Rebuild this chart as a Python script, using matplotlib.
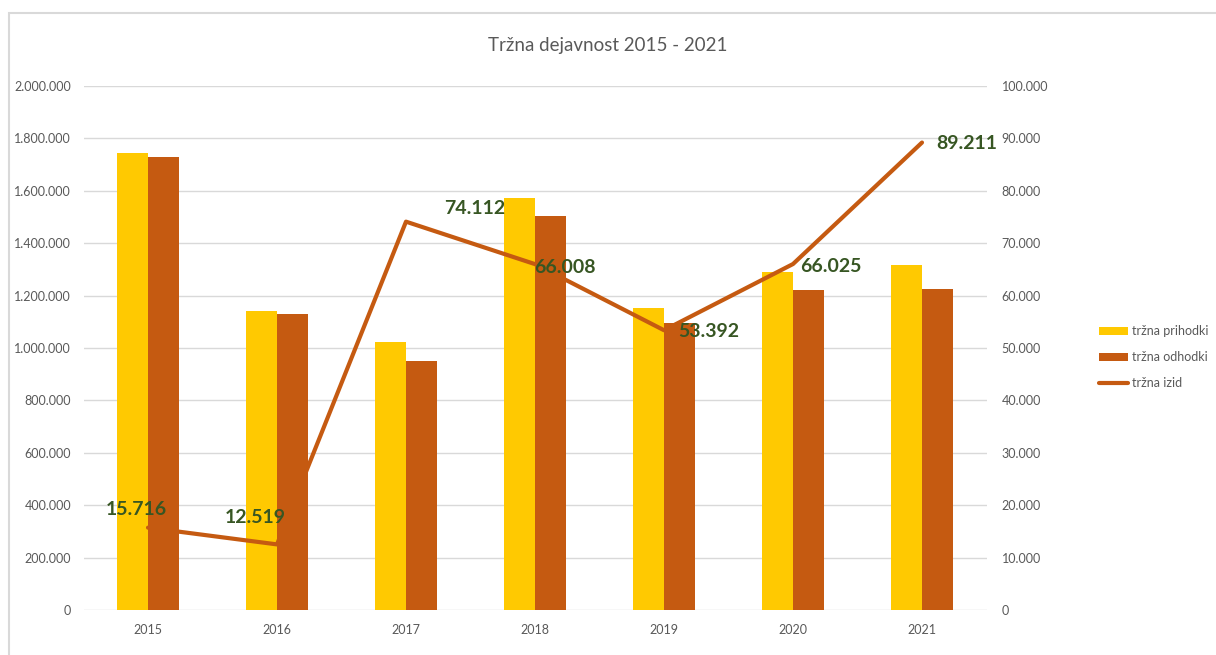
import matplotlib
matplotlib.use("Agg")
import matplotlib.pyplot as plt
from matplotlib.ticker import FuncFormatter
from matplotlib.patches import Rectangle
from matplotlib.lines import Line2D
from matplotlib.patches import Patch

years = ["2015", "2016", "2017", "2018", "2019", "2020", "2021"]
prihodki = [1744000, 1141000, 1023000, 1573000, 1153000, 1290000, 1317000]
odhodki = [1729000, 1130000, 950000, 1504000, 1095000, 1221000, 1225000]
izid = [15716, 12519, 74112, 66008, 53392, 66025, 89211]
label_offsets = [(-12, 18), (-22, 27), (69, 13), (30, -3), (45, -1), (38, -2), (45, -1)]

YELLOW = "#FFC901"
ORANGE = "#C55A11"
GREEN = "#375623"
GRAY = "#595959"
GRID = "#D9D9D9"

plt.rcParams['font.family'] = ['Lato', 'DejaVu Sans']

def fmt(v, pos=None):
    s = f"{int(round(v)):,}".replace(",", ".")
    return s

fig = plt.figure(figsize=(12.16, 6.55), dpi=100)
ax = fig.add_axes([83.5/1216, 45/655, 903/1216, 524/655])
ax2 = ax.twinx()

x = list(range(len(years)))
w = 0.24
ax.bar([i - w/2 for i in x], prihodki, width=w, color=YELLOW, zorder=2)
ax.bar([i + w/2 for i in x], odhodki, width=w, color=ORANGE, zorder=2)
ax2.plot(x, izid, color=ORANGE, lw=3, solid_capstyle='round', zorder=3)

for i, v in enumerate(izid):
    dx, dy = label_offsets[i]
    ax2.annotate(fmt(v), (i, v), xytext=(dx, dy), textcoords='offset pixels',
                 ha='center', va='center', fontsize=14, fontweight='bold', color=GREEN)

ax.set_xlim(-0.5, len(years) - 0.5)
ax.set_ylim(0, 2000000)
ax2.set_ylim(0, 100000)
ax.set_yticks(range(0, 2000001, 200000))
ax2.set_yticks(range(0, 100001, 10000))
ax.yaxis.set_major_formatter(FuncFormatter(fmt))
ax2.yaxis.set_major_formatter(FuncFormatter(fmt))
ax.set_xticks(x)
ax.set_xticklabels(years)

for a in (ax, ax2):
    for s in a.spines.values():
        s.set_visible(False)
    a.tick_params(length=0, labelsize=9, colors=GRAY)
ax.tick_params(axis='y', pad=9)
ax2.tick_params(axis='y', pad=11)
ax.tick_params(axis='x', pad=10)
ax.grid(axis='y', color=GRID, lw=1, zorder=0)
ax.set_axisbelow(True)

fig.text(608/1216, 1 - 45/655, "Tržna dejavnost 2015 - 2021", ha='center', va='center',
         fontsize=13.5, color=GRAY)

# chart border
fig.add_artist(Rectangle((9/1216, -0.05), 1.1, (655 - 13)/655 + 0.05, transform=fig.transFigure,
                         fill=False, edgecolor=GRID, lw=1.5))

handles = [Patch(facecolor=YELLOW, edgecolor='none'),
           Patch(facecolor=ORANGE, edgecolor='none'),
           Line2D([0], [0], color=ORANGE, lw=3, solid_capstyle='round')]
labels = ["tržna prihodki", "tržna odhodki", "tržna izid"]
leg = fig.legend(handles, labels, loc='center left', bbox_to_anchor=(1088/1216, 1 - 357/655),
                 frameon=False, fontsize=9, labelcolor=GRAY, handlelength=2.3,
                 handleheight=0.6, labelspacing=1.1, handletextpad=0.3)

fig.savefig("out.png", dpi=100)
